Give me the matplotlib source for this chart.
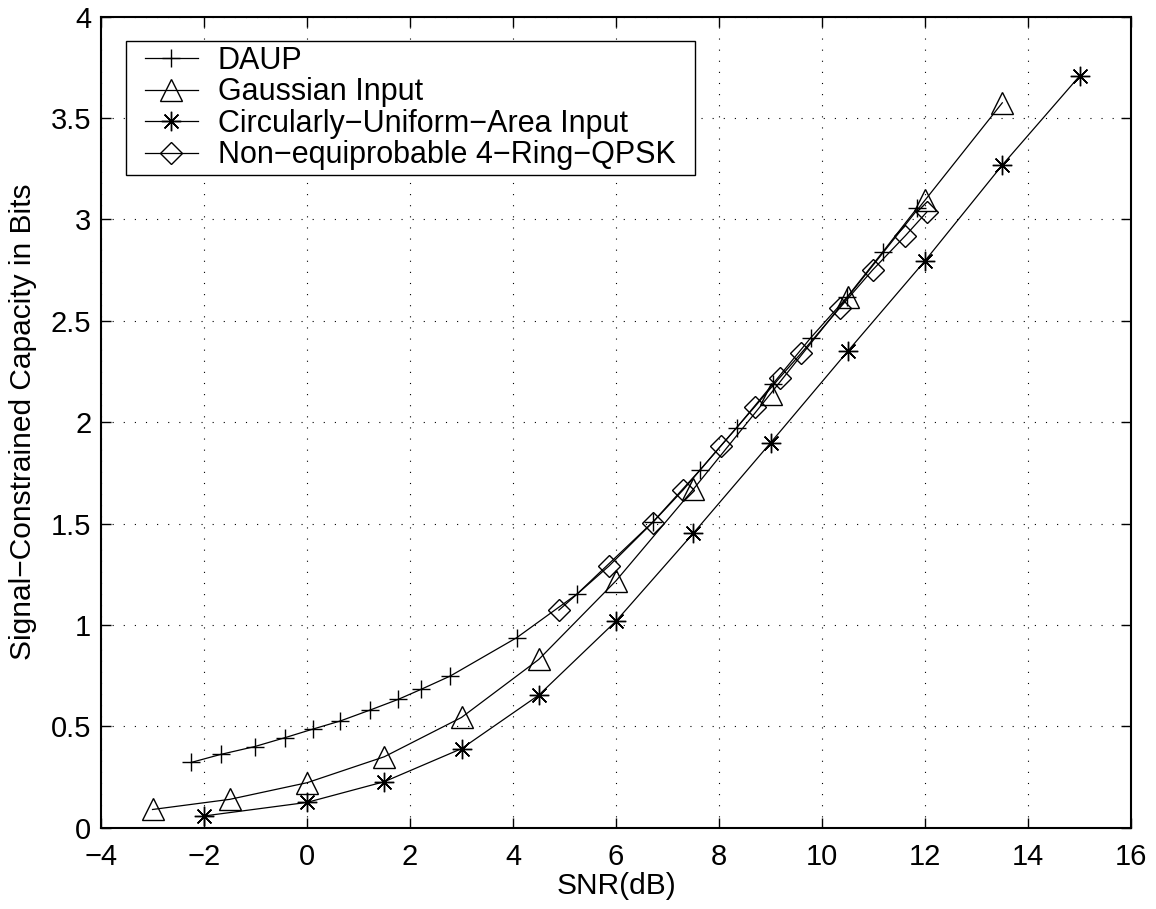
import matplotlib
matplotlib.use("Agg")
import matplotlib.pyplot as plt
from matplotlib.patches import Rectangle

plt.rcParams['font.family'] = ['Liberation Sans', 'DejaVu Sans']

# Data
daup_x = [-2.25, -1.67, -1.02, -0.43, 0.12, 0.64, 1.22, 1.77, 2.21, 2.78, 4.07, 5.24,
          6.72, 7.63, 8.34, 9.05, 9.78, 10.49, 11.18, 11.84]
daup_y = [0.322, 0.362, 0.40, 0.444, 0.487, 0.526, 0.58, 0.633, 0.682, 0.748, 0.937, 1.152,
          1.509, 1.764, 1.972, 2.19, 2.416, 2.618, 2.84, 3.054]

gauss_x = [-3.0, -1.5, 0.0, 1.5, 3.0, 4.5, 6.0, 7.5, 9.0, 10.5, 12.0, 13.5]
gauss_y = [0.09, 0.14, 0.222, 0.35, 0.544, 0.83, 1.218, 1.669, 2.14, 2.618, 3.095, 3.575]

circ_x = [-2.0, 0.0, 1.5, 3.0, 4.5, 6.0, 7.5, 9.0, 10.5, 12.0, 13.5, 15.0]
circ_y = [0.058, 0.125, 0.227, 0.39, 0.654, 1.019, 1.452, 1.898, 2.35, 2.796, 3.268, 3.707]

ring_x = [4.89, 5.86, 6.71, 7.30, 8.04, 8.69, 9.18, 9.60, 10.35, 10.98, 11.62, 12.03]
ring_y = [1.073, 1.29, 1.505, 1.665, 1.885, 2.075, 2.22, 2.342, 2.565, 2.75, 2.92, 3.035]

labels = ['DAUP', 'Gaussian Input', 'Circularly\u2212Uniform\u2212Area Input',
          'Non\u2212equiprobable 4\u2212Ring\u2212QPSK']

xticks = [-4, -2, 0, 2, 4, 6, 8, 10, 12, 14, 16]
yticks = [0, 0.5, 1, 1.5, 2, 2.5, 3, 3.5, 4]
xtick_labels = ['\u22124', '\u22122', '0', '2', '4', '6', '8', '10', '12', '14', '16']
ytick_labels = ['0', '0.5', '1', '1.5', '2', '2.5', '3', '3.5', '4']

fig = plt.figure(figsize=(11.56, 9.09), dpi=100)
ax = fig.add_axes([0.0874, 0.0894, 0.8910, 0.8923])

lw = 0.9
ax.plot(daup_x, daup_y, color='k', lw=lw, marker='+', ms=13.5, mew=1.0, label=labels[0])
ax.plot(gauss_x, gauss_y, color='k', lw=lw, marker='^', ms=16, mfc='none', mew=1.0, label=labels[1])
ax.plot(circ_x, circ_y, color='k', lw=lw, marker=(8, 2, 0), ms=14, mew=1.0, label=labels[2])
ax.plot(ring_x, ring_y, color='k', lw=lw, marker='D', ms=11.5, mfc='none', mew=1.0, label=labels[3])

ax.set_xlim(-4, 16)
ax.set_ylim(0, 4)
ax.set_xticks(xticks)
ax.set_xticklabels(xtick_labels)
ax.set_yticks(yticks)
ax.set_yticklabels(ytick_labels)
ax.tick_params(direction='in', top=True, right=True, length=7, width=1.0,
               labelsize=21)
ax.tick_params(axis='x', pad=11)
ax.tick_params(axis='y', pad=7)
ax.grid(True, color='k', linestyle=(0, (1, 9)), linewidth=0.8)
for s in ax.spines.values():
    s.set_linewidth(1.5)

ax.set_xlabel('SNR(dB)', fontsize=21.5, labelpad=1)
ax.set_ylabel('Signal\u2212Constrained Capacity in Bits', fontsize=21.5, labelpad=10)

leg = ax.legend(loc='upper left', bbox_to_anchor=(0.0427, 0.9639), borderaxespad=0,
                fontsize=22, frameon=False, handlelength=1.73, handletextpad=0.65,
                labelspacing=0.05, borderpad=0)

fig.canvas.draw()
bb = leg.get_window_extent(fig.canvas.get_renderer())
padx, pady = 19, 5
x0 = (bb.x0 - padx) / fig.bbox.width
y0 = (bb.y0 - pady) / fig.bbox.height
w = (bb.width + 2 * padx) / fig.bbox.width
h = (bb.height + 2 * pady) / fig.bbox.height
frame = Rectangle((x0, y0), w, h, transform=fig.transFigure, facecolor='white',
                  edgecolor='k', linewidth=1.0, zorder=4)
fig.patches.append(frame)
leg.set_zorder(6)
ax.set_zorder(1)
# draw legend on top of frame by moving it to the figure
leg.remove()
leg2 = fig.legend(*ax.get_legend_handles_labels(), loc='upper left',
                  bbox_to_anchor=(bb.x0 / fig.bbox.width, bb.y1 / fig.bbox.height),
                  borderaxespad=0, fontsize=22, frameon=False, handlelength=1.73,
                  handletextpad=0.65, labelspacing=0.05, borderpad=0)

fig.savefig('out.png', dpi=100)
